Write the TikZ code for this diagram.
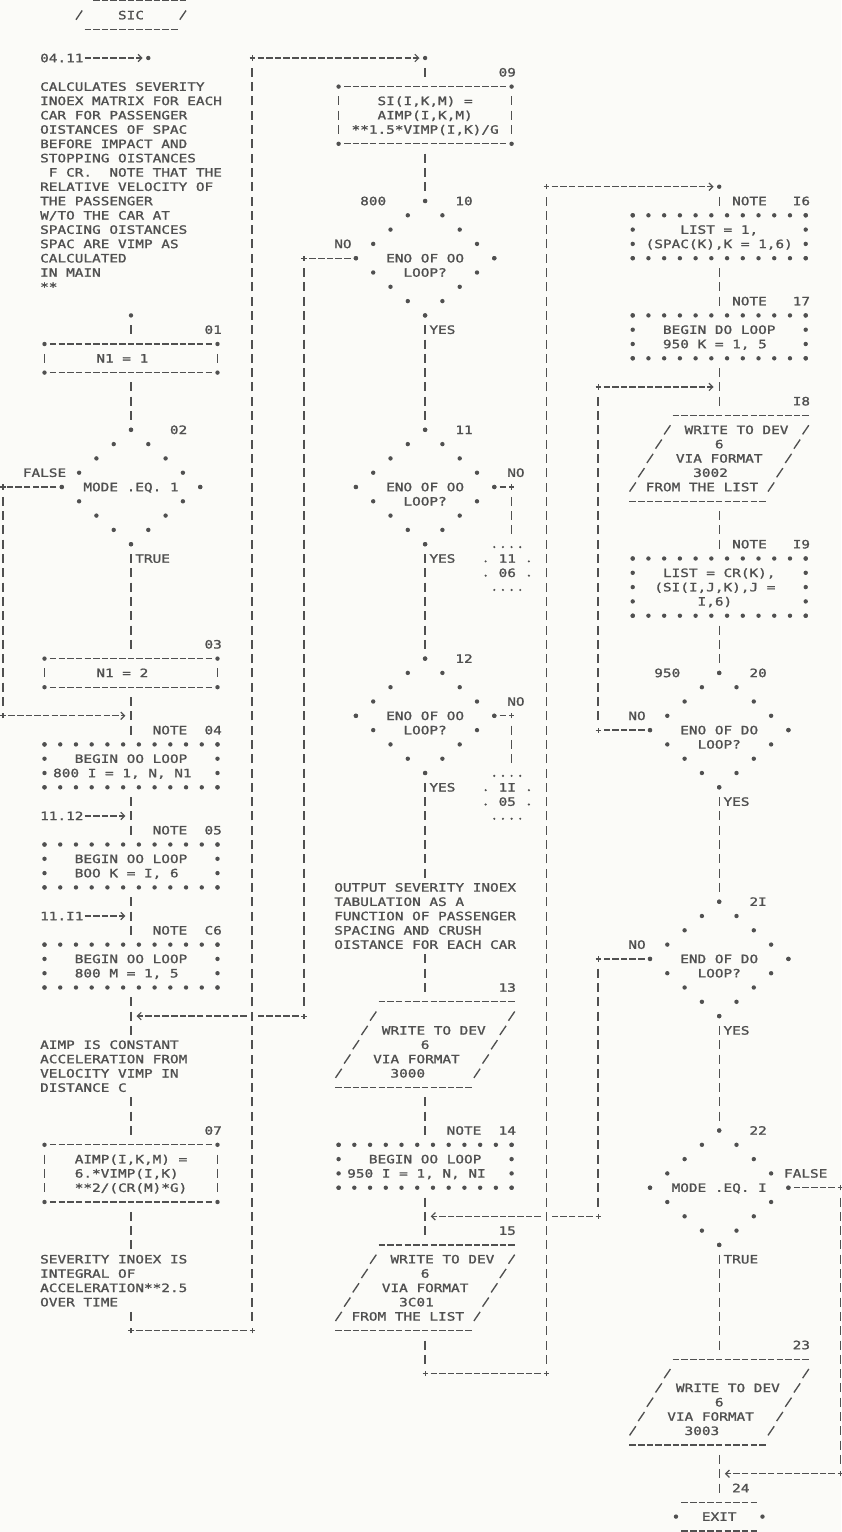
\documentclass[tikz,border=0pt]{standalone}
\usepackage{fontspec}
\newfontfamily\lpf[FakeStretch=1.25,FakeBold=1.4]{DejaVu Sans Mono}
\usetikzlibrary{shapes.geometric,arrows.meta}
\definecolor{ink}{RGB}{80,80,80}
\definecolor{paper}{RGB}{251,251,248}
\tikzset{
  txt/.style={font=\lpf\fontsize{11.5}{14}\selectfont\frenchspacing, text=ink, inner sep=0pt, outer sep=0pt, anchor=west, text height=8.4pt, text depth=0pt},
  vl/.style={draw=ink, line width=1.4pt, dash pattern=on 9pt off 5.3pt, shorten <=9.8pt, shorten >=9.8pt},
  hl/.style={draw=ink, line width=1.3pt, dash pattern=on 6.5pt off 2.15pt, dash phase=7.575pt, shorten <=4.325pt, shorten >=4.325pt},
  harr/.style={hl, shorten >=5.6pt, -{Straight Barb[length=3.8pt,width=7.5pt,line width=1.2pt]}},
  harr0/.style={harr, shorten <=0pt},
  frame/.style={inner sep=0pt, outer sep=0pt},
}
\newcommand\tx[4]{\node[txt] (#1) at ({#2-0.5},#3) {#4};}
\newcommand\st[1]{\fill[ink] #1 circle (2.2pt);}
\newcommand\pls[1]{\draw[ink,line width=1.2pt] (#1) ++(-2.6pt,0pt) -- ++(5.2pt,0pt) (#1) ++(0pt,-2.6pt) -- ++(0pt,5.2pt);}
\newcommand\sls[2]{\draw[ink,line width=1.35pt] ({#1-0.36},{#2+0.32}) -- ({#1+0.36},{#2-0.32});}
% process box: name, col, top row, bottom row
\newcommand\procbox[4]{%
  \node[frame, minimum width=173pt, minimum height={(#4-#3)*14.3pt}] (#1) at (#2,{(#3+#4)/2}) {};
  \draw[hl] ({#2-10},#3) -- ({#2+10},#3);
  \draw[hl] ({#2-10},#4) -- ({#2+10},#4);
  \draw[vl] ({#2-10},#3) -- ({#2-10},#4);
  \draw[vl] ({#2+10},#3) -- ({#2+10},#4);
  \foreach \xx in {-10,10}{\foreach \yy in {#3,#4}{\fill[ink] ({#2+\xx},\yy) circle (2.2pt);}}
}
% note box of stars: name, col, top row, bottom row
\newcommand\notebox[4]{%
  \node[frame, minimum width=173pt, minimum height={(#4-#3)*14.3pt}] (#1) at (#2,{(#3+#4)/2}) {};
  \foreach \k in {0,...,11}{\fill[ink] ({#2-10+\k*20/11},#3) circle (2.2pt); \fill[ink] ({#2-10+\k*20/11},#4) circle (2.2pt);}
  \foreach \yy in {#3,...,#4}{\fill[ink] ({#2-10},\yy) circle (2.2pt); \fill[ink] ({#2+10},\yy) circle (2.2pt);}
}
% decision diamond of stars: name, col, top row
\newcommand\dmd[3]{%
  \node[frame, diamond, minimum width=138.4pt, minimum height=114.4pt] (#1) at (#2,{#3+4}) {};
  \foreach \k in {0,...,4}{
    \fill[ink] ({#2-2*\k},{#3+\k}) circle (2.2pt);
    \fill[ink] ({#2+2*\k},{#3+\k}) circle (2.2pt);
    \fill[ink] ({#2-2*\k},{#3+8-\k}) circle (2.2pt);
    \fill[ink] ({#2+2*\k},{#3+8-\k}) circle (2.2pt);}
}
% input/output parallelogram: name, col, top row, bottom row (5 slanted rows)
\newcommand\para[4]{%
  \node[frame, minimum width=140pt, minimum height={(#4-#3)*14.3pt}] (#1) at (#2,{(#3+#4)/2}) {};
  \draw[hl] ({#2-6},#3) -- ({#2+11},#3);
  \draw[hl] ({#2-11},#4) -- ({#2+6},#4);
  \foreach \k in {0,...,4}{\sls{#2-6-\k}{#3+1+\k}\sls{#2+10-\k}{#3+1+\k}}
}
% off-page connector: name, centre col, top row, two labels
\newcommand\offp[5]{%
  \node[frame, minimum width=43.25pt, minimum height=42.9pt] (#1) at (#2,{#3+1.5}) {};
  \foreach \xx in {-1.5,-0.5,0.5,1.5}{\fill[ink] ({#2+\xx},{#3+0.2}) circle (1.2pt); \fill[ink] ({#2+\xx},{#3+3.2}) circle (1.2pt);}
  \foreach \yy in {1,2}{\fill[ink] ({#2-2.5},{#3+\yy+0.2}) circle (1.2pt); \fill[ink] ({#2+2.5},{#3+\yy+0.2}) circle (1.2pt);}
  \tx{#1a}{#2-0.5}{#3+1}{#4}
  \tx{#1b}{#2-0.5}{#3+2}{#5}
}
\begin{document}
\begin{tikzpicture}[x=8.65pt,y=-14.3pt]
\fill[paper] (0pt,0pt) rectangle (841pt,-1532pt);
\useasboundingbox (0pt,0pt) rectangle (841pt,-1532pt);
\begin{scope}[shift={(131pt,-0.8pt)}]
% ================= LEFT COLUMN =================
\node[txt, anchor=center, minimum height=28.6pt] (sic) at (0,1) {SIC};
\draw[hl] (-5,0) -- (7,0);
\draw[hl] (-6,2) -- (6,2);
\sls{-6}{1}\sls{6}{1}
\tx{t0411}{-10}{4}{04.11}
\coordinate (e0) at (2,4);
\draw[harr0] (t0411.east) -- (e0);
\st{(e0)}
\tx{ca1}{-10}{6}{CALCULATES SEVERITY}
\tx{ca2}{-10}{7}{INOEX MATRIX FOR EACH}
\tx{ca3}{-10}{8}{CAR FOR PASSENGER}
\tx{ca4}{-10}{9}{OISTANCES OF SPAC}
\tx{ca5}{-10}{10}{BEFORE IMPACT AND}
\tx{ca6}{-10}{11}{STOPPING OISTANCES}
\tx{ca7}{-9}{12}{F CR.~ NOTE THAT THE}
\tx{ca8}{-10}{13}{RELATIVE VELOCITY OF}
\tx{ca9}{-10}{14}{THE PASSENGER}
\tx{ca10}{-10}{15}{W/TO THE CAR AT}
\tx{ca11}{-10}{16}{SPACING OISTANCES}
\tx{ca12}{-10}{17}{SPAC ARE VIMP AS}
\tx{ca13}{-10}{18}{CALCULATED}
\tx{ca14}{-10}{19}{IN MAIN}
\tx{ca15}{-10}{20}{**}
\coordinate (s01) at (0,22);
\st{(s01)}
\tx{l01}{9}{23}{01}
\procbox{b01}{0}{24}{26}
\tx{b01t}{-3.5}{25}{N1 = 1}
\draw[vl] (s01) -- (b01.north);
\dmd{d02}{0}{30}
\tx{l02}{5}{30}{02}
\tx{d02t}{-5}{34}{MODE .EQ. 1}
\draw[vl] (b01.south) -- (d02.north);
\tx{f02}{-12}{33}{FALSE}
\coordinate (g1) at (-14.8,34);
\coordinate (g2) at (-14.8,50);
\coordinate (j50) at (0,50);
\draw[hl] (d02.west) -- (g1);
\draw[vl] (g1) -- (g2);
\draw[harr] (g2) -- (j50);
\pls{g1}\pls{g2}
\tx{t02}{1}{39}{TRUE}
\tx{l03}{9}{45}{03}
\procbox{b03}{0}{46}{48}
\tx{b03t}{-3.5}{47}{N1 = 2}
\draw[vl] (d02.south) -- (b03.north);
\notebox{n04}{0}{52}{55}
\tx{n04l}{3}{51}{NOTE}\tx{n04n}{9}{51}{04}
\tx{n04a}{-6}{53}{BEGIN OO LOOP}
\tx{n04b}{-8.5}{54}{800 I = 1, N, N1}
\draw[vl] (b03.south) -- (n04.north);
\notebox{n05}{0}{59}{62}
\tx{n05l}{3}{58}{NOTE}\tx{n05n}{9}{58}{05}
\tx{n05a}{-6}{60}{BEGIN OO LOOP}
\tx{n05b}{-6}{61}{BOO K = I, 6}
\draw[vl] (n04.south) -- (n05.north);
\coordinate (j57) at (0,57);
\tx{r1112}{-10}{57}{11.12}
\draw[harr0] (r1112.east) -- (j57);
\notebox{n06}{0}{66}{69}
\tx{n06l}{3}{65}{NOTE}\tx{n06n}{9}{65}{C6}
\tx{n06a}{-6}{67}{BEGIN OO LOOP}
\tx{n06b}{-6}{68}{800 M = 1, 5}
\draw[vl] (n05.south) -- (n06.north);
\coordinate (j64) at (0,64);
\tx{r1111}{-10}{64}{11.I1}
\draw[harr0] (r1111.east) -- (j64);
\coordinate (c2a) at (0,73);
\coordinate (c2b) at (0,76);
\draw[vl] (n06.south) -- (c2a);
\tx{cb1}{-10}{73}{AIMP IS CONSTANT}
\tx{cb2}{-10}{74}{ACCELERATION FROM}
\tx{cb3}{-10}{75}{VELOCITY VIMP IN}
\tx{cb4}{-10}{76}{DISTANCE C}
\tx{l07}{9}{79}{07}
\procbox{b07}{0}{80}{84}
\tx{b07a}{-6}{81}{AIMP(I,K,M) =}
\tx{b07b}{-6}{82}{6.*VIMP(I,K)}
\tx{b07c}{-6}{83}{**2/(CR(M)*G)}
\draw[vl] (c2b) -- (b07.north);
\coordinate (c3a) at (0,88);
\coordinate (c3b) at (0,91);
\draw[vl] (b07.south) -- (c3a);
\tx{cc1}{-10}{88}{SEVERITY INOEX IS}
\tx{cc2}{-10}{89}{INTEGRAL OF}
\tx{cc3}{-10}{90}{ACCELERATION**2.5}
\tx{cc4}{-10}{91}{OVER TIME}
\coordinate (lb) at (0,93);
\coordinate (a93) at (14,93);
\coordinate (a4) at (14,4);
\coordinate (a71) at (14,71);
\coordinate (m0) at (34,4);
\draw[vl] (c3b) -- (lb);
\draw[hl] (lb) -- (a93);
\draw[vl] (a93) -- (a4);
\draw[harr] (a4) -- (m0);
\pls{lb}\pls{a93}\pls{a4}
\st{(m0)}
% ================= MIDDLE COLUMN =================
\tx{l09}{43}{5}{09}
\procbox{b09}{34}{6}{10}
\tx{b09a}{29}{7}{SI(I,K,M) =}
\tx{b09b}{29}{8}{AIMP(I,K,M)}
\tx{b09c}{26}{9}{**1.5*VIMP(I,K)/G}
\draw[vl] (m0) -- (b09.north);
\dmd{d10}{34}{14}
\tx{l800}{27}{14}{800}\tx{l10}{38}{14}{10}
\tx{d10a}{30}{18}{ENO OF OO}\tx{d10b}{32}{19}{LOOP?}
\draw[vl] (b09.south) -- (d10.north);
\tx{no10}{24}{17}{NO}
\coordinate (b18) at (20,18);
\coordinate (b71) at (20,71);
\coordinate (j71) at (0,71);
\draw[hl] (d10.west) -- (b18);
\draw[vl] (b18) -- (b71);
\draw[hl] (b71) -- (a71);
\draw[harr] (a71) -- (j71);
\pls{b18}\pls{b71}
\tx{y10}{35}{23}{YES}
\dmd{d11}{34}{30}
\tx{l11}{38}{30}{11}
\tx{d11a}{30}{34}{ENO OF OO}\tx{d11b}{32}{35}{LOOP?}
\draw[vl] (d10.south) -- (d11.north);
\tx{no11}{44}{33}{NO}
\coordinate (k11) at (44,34);
\coordinate (k11b) at (44,38);
\draw[hl] (d11.east) -- (k11);
\draw[vl] (k11) -- (k11b);
\pls{k11}
\offp{oc1}{43.5}{38}{11}{06}
\tx{y11}{35}{39}{YES}
\dmd{d12}{34}{46}
\tx{l12}{38}{46}{12}
\tx{d12a}{30}{50}{ENO OF OO}\tx{d12b}{32}{51}{LOOP?}
\draw[vl] (d11.south) -- (d12.north);
\tx{no12}{44}{49}{NO}
\coordinate (k12) at (44,50);
\coordinate (k12b) at (44,54);
\draw[hl] (d12.east) -- (k12);
\draw[vl] (k12) -- (k12b);
\pls{k12}
\offp{oc2}{43.5}{54}{1I}{05}
\tx{y12}{35}{55}{YES}
\coordinate (c4a) at (34,62);
\coordinate (c4b) at (34,66);
\draw[vl] (d12.south) -- (c4a);
\tx{co1}{24}{62}{OUTPUT SEVERITY INOEX}
\tx{co2}{24}{63}{TABULATION AS A}
\tx{co3}{24}{64}{FUNCTION OF PASSENGER}
\tx{co4}{24}{65}{SPACING AND CRUSH}
\tx{co5}{24}{66}{OISTANCE FOR EACH CAR}
\tx{l13}{43}{69}{13}
\para{p13}{34}{70}{76}
\tx{p13a}{29.5}{72}{WRITE TO DEV}
\tx{p13b}{34}{73}{6}
\tx{p13c}{28.5}{74}{VIA FORMAT}
\tx{p13d}{30.5}{75}{3000}
\draw[vl] (c4b) -- (p13.north);
\notebox{n14}{34}{80}{83}
\tx{n14l}{37}{79}{NOTE}\tx{n14n}{43}{79}{14}
\tx{n14a}{28}{81}{BEGIN OO LOOP}
\tx{n14b}{25.5}{82}{950 I = 1, N, NI}
\draw[vl] (p13.south) -- (n14.north);
\tx{l15}{43}{86}{15}
\para{p15}{34}{87}{93}
\tx{p15a}{30.5}{88}{WRITE TO DEV}
\tx{p15b}{34}{89}{6}
\tx{p15c}{29.5}{90}{VIA FORMAT}
\tx{p15d}{31.5}{91}{3C01}
\tx{p15e}{26}{92}{FROM THE LIST}
\draw[vl] (n14.south) -- (p15.north);
\coordinate (mb) at (34,96);
\coordinate (c96) at (48,96);
\coordinate (c13) at (48,13);
\coordinate (c85) at (48,85);
\coordinate (r0) at (68,13);
\draw[vl] (p15.south) -- (mb);
\draw[hl] (mb) -- (c96);
\draw[vl] (c96) -- (c13);
\draw[harr] (c13) -- (r0);
\pls{mb}\pls{c96}\pls{c13}
\st{(r0)}
% ================= RIGHT COLUMN =================
\notebox{n16}{68}{15}{18}
\tx{n16l}{70}{14}{NOTE}\tx{n16n}{77}{14}{I6}
\tx{n16a}{64}{16}{LIST = 1,}
\tx{n16b}{60}{17}{(SPAC(K),K = 1,6)}
\draw[vl] (r0) -- (n16.north);
\notebox{n17}{68}{22}{25}
\tx{n17l}{70}{21}{NOTE}\tx{n17n}{77}{21}{17}
\tx{n17a}{62}{23}{BEGIN DO LOOP}
\tx{n17b}{62}{24}{950 K = 1, 5}
\draw[vl] (n16.south) -- (n17.north);
\tx{l18}{77}{28}{I8}
\para{p18}{68}{29}{35}
\tx{p18a}{64.5}{30}{WRITE TO DEV}
\tx{p18b}{68}{31}{6}
\tx{p18c}{63.5}{32}{VIA FORMAT}
\tx{p18d}{65.5}{33}{3002}
\tx{p18e}{60}{34}{FROM THE LIST}
\draw[vl] (n17.south) -- (p18.north);
\coordinate (d27) at (54,27);
\coordinate (j27) at (68,27);
\draw[harr] (d27) -- (j27);
\notebox{n19}{68}{39}{43}
\tx{n19l}{70}{38}{NOTE}\tx{n19n}{77}{38}{I9}
\tx{n19a}{62}{40}{LIST = CR(K),}
\tx{n19b}{61}{41}{(SI(I,J,K),J =}
\tx{n19c}{66}{42}{I,6)}
\draw[vl] (p18.south) -- (n19.north);
\dmd{d20}{68}{47}
\tx{l950}{61}{47}{950}\tx{l20}{72}{47}{20}
\tx{d20a}{64}{51}{ENO OF DO}\tx{d20b}{66}{52}{LOOP?}
\draw[vl] (n19.south) -- (d20.north);
\tx{no20}{58}{50}{NO}
\coordinate (d51) at (54,51);
\draw[hl] (d20.west) -- (d51);
\draw[vl] (d51) -- (d27);
\pls{d51}\pls{d27}
\tx{y20}{69}{56}{YES}
\dmd{d21}{68}{63}
\tx{l21}{72}{63}{2I}
\tx{d21a}{64}{67}{END OF DO}\tx{d21b}{66}{68}{LOOP?}
\draw[vl] (d20.south) -- (d21.north);
\tx{no21}{58}{66}{NO}
\coordinate (e67) at (54,67);
\coordinate (e85) at (54,85);
\coordinate (j85) at (34,85);
\draw[hl] (d21.west) -- (e67);
\draw[vl] (e67) -- (e85);
\draw[hl] (e85) -- (c85);
\draw[harr] (c85) -- (j85);
\pls{e67}\pls{e85}
\tx{y21}{69}{72}{YES}
\dmd{d22}{68}{79}
\tx{l22}{72}{79}{22}
\tx{d22a}{63}{83}{MODE .EQ. I}
\draw[vl] (d21.south) -- (d22.north);
\tx{f22}{76}{82}{FALSE}
\coordinate (f83) at (82,83);
\coordinate (f103) at (82,103);
\coordinate (j103) at (68,103);
\draw[hl] (d22.east) -- (f83);
\draw[vl] (f83) -- (f103);
\draw[harr] (f103) -- (j103);
\pls{f83}\pls{f103}
\tx{t22}{69}{88}{TRUE}
\tx{l23}{77}{94}{23}
\para{p23}{68}{95}{101}
\tx{p23a}{63.5}{97}{WRITE TO DEV}
\tx{p23b}{68}{98}{6}
\tx{p23c}{62.5}{99}{VIA FORMAT}
\tx{p23d}{64.5}{100}{3003}
\draw[vl] (d22.south) -- (p23.north);
\tx{l24}{70}{104}{24}
\node[txt, anchor=center, minimum height=28.6pt] (exit) at (68,106) {EXIT};
\draw[hl] (63,105) -- (73,105);
\draw[hl] (63,107) -- (73,107);
\st{(63,106)}\st{(73,106)}
\draw[vl] (p23.south) -- (exit.north);
\end{scope}
\end{tikzpicture}
\end{document}
